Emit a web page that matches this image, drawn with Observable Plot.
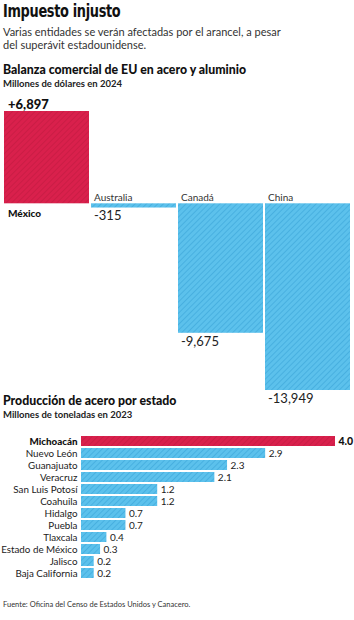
<!DOCTYPE html>
<html><head><meta charset="utf-8">
<script src="https://cdn.jsdelivr.net/npm/d3@7"></script>
<script src="https://cdn.jsdelivr.net/npm/@observablehq/plot@0.6"></script>
<style>
html,body{margin:0;padding:0;background:#fff;}
#page{position:relative;width:354px;height:620px;overflow:hidden;font-family:Lato,"Open Sans",sans-serif;color:#111;}
.abs{position:absolute;left:3px;white-space:nowrap;}
#t{top:1px;font-family:"Liberation Sans Narrow","DejaVu Sans Condensed",sans-serif;font-size:17.5px;font-weight:700;letter-spacing:-0.4px;color:#111;transform:scaleX(0.82);transform-origin:0 0;}
#st{top:25px;font-size:11px;line-height:13px;color:#333;}
#h1{top:62px;font-size:12.3px;font-weight:900;}
#s1{top:78px;font-size:9.5px;font-weight:700;color:#222;}
#h2{top:393px;font-size:12.3px;font-weight:900;}
#s2{top:409px;font-size:9.5px;font-weight:700;color:#222;}
#f{top:600px;font-size:7.5px;color:#333;}
#c1{position:absolute;left:0;top:95px;}
#c2{position:absolute;left:0;top:426px;}
</style></head>
<body>
<svg width="0" height="0" style="position:absolute">
<defs>
<pattern id="rojo" patternUnits="userSpaceOnUse" width="4" height="4" patternTransform="rotate(45)">
<rect width="4" height="4" fill="#d9204c"/><line x1="0" y1="0" x2="0" y2="4" stroke="#c01a40" stroke-width="1.2"/>
</pattern>
<pattern id="azul" patternUnits="userSpaceOnUse" width="4" height="4" patternTransform="rotate(45)">
<rect width="4" height="4" fill="#5cc1ec"/><line x1="0" y1="0" x2="0" y2="4" stroke="#3aa5d8" stroke-width="1.2"/>
</pattern>
</defs></svg>
<div id="page">
<div id="c1"></div>
<div id="c2"></div>
<div class="abs" id="t">Impuesto injusto</div>
<div class="abs" id="st">Varias entidades se verán afectadas por el arancel, a pesar<br>del superávit estadounidense.</div>
<div class="abs" id="h1">Balanza comercial de EU en acero y aluminio</div>
<div class="abs" id="s1">Millones de dólares en 2024</div>
<div class="abs" id="h2">Producción de acero por estado</div>
<div class="abs" id="s2">Millones de toneladas en 2023</div>
<div class="abs" id="f">Fuente: Oficina del Censo de Estados Unidos y Canacero.</div>
</div>
<script>
const paises = ["México", "Australia", "Canadá", "China"];
const balanza = [6897, -315, -9675, -13949];
const etiquetasBalanza = ["+6,897", "-315", "-9,675", "-13,949"];

const estados = ["Michoacán", "Nuevo León", "Guanajuato", "Veracruz", "San Luis Potosí", "Coahuila", "Hidalgo", "Puebla", "Tlaxcala", "Estado de México", "Jalisco", "Baja California"];
const produccion = [4.0, 2.9, 2.3, 2.1, 1.2, 1.2, 0.7, 0.7, 0.4, 0.3, 0.2, 0.2];
const etiquetasProduccion = ["4.0", "2.9", "2.3", "2.1", "1.2", "1.2", "0.7", "0.7", "0.4", "0.3", "0.2", "0.2"];

const d1 = paises.map((p, i) => ({pais: p, valor: balanza[i], etiqueta: etiquetasBalanza[i]}));
const pos = d1.filter(d => d.valor > 0), neg = d1.filter(d => d.valor < 0);
const bw = 86;
const font = "Lato, 'Open Sans', sans-serif";

const chart1 = Plot.plot({
  width: 354, height: 315, marginLeft: 3, marginRight: 2, marginTop: 0, marginBottom: 0,
  style: {background: "transparent", fontFamily: font, color: "#111", overflow: "visible"},
  x: {domain: paises, paddingInner: 0.02, paddingOuter: 0, axis: null},
  y: {domain: [-13949, 6897], range: [295, 16], axis: null},
  marks: [
    Plot.barY(pos, {x: "pais", y: "valor", fill: "url(#rojo)"}),
    Plot.barY(neg, {x: "pais", y: "valor", fill: "url(#azul)"}),
    Plot.text(pos, {x: "pais", y: "valor", text: "etiqueta", textAnchor: "start", lineAnchor: "bottom", dx: -bw/2 + 4, dy: -3, fontSize: 13, fontWeight: 900, fill: "#111"}),
    Plot.text(neg, {x: "pais", y: "valor", text: "etiqueta", textAnchor: "start", lineAnchor: "top", dx: -bw/2 + 3, dy: 3, fontSize: 13, fill: "#222"}),
    Plot.text(pos, {x: "pais", y: 0, text: "pais", textAnchor: "start", lineAnchor: "top", dx: -bw/2 + 4, dy: 6, fontSize: 10, fontWeight: 900, fill: "#111"}),
    Plot.text(neg, {x: "pais", y: 0, text: "pais", textAnchor: "start", lineAnchor: "bottom", dx: -bw/2 + 3, dy: -3, fontSize: 10, fill: "#333"})
  ]
});
document.getElementById("c1").append(chart1);

const d2 = estados.map((e, i) => ({estado: e, valor: produccion[i], etiqueta: etiquetasProduccion[i]}));
const top2 = d2.filter(d => d.estado === "Michoacán"), rest2 = d2.filter(d => d.estado !== "Michoacán");
const chart2 = Plot.plot({
  width: 354, height: 160, marginLeft: 81, marginRight: 19, marginTop: 4, marginBottom: 2.4,
  style: {background: "transparent", fontFamily: font, color: "#111", overflow: "visible"},
  x: {domain: [0, 4], axis: null},
  y: {domain: estados, padding: 0.18, axis: null},
  marks: [
    Plot.barX(top2, {x: "valor", y: "estado", fill: "url(#rojo)"}),
    Plot.barX(rest2, {x: "valor", y: "estado", fill: "url(#azul)"}),
    Plot.text(rest2, {x: 0, y: "estado", text: "estado", textAnchor: "end", dx: -4, fontSize: 9.8, fill: "#222"}),
    Plot.text(rest2, {x: "valor", y: "estado", text: "etiqueta", textAnchor: "start", dx: 3, fontSize: 10, fill: "#222"}),
    Plot.text(top2, {x: 0, y: "estado", text: "estado", textAnchor: "end", dx: -4, fontSize: 9.8, fontWeight: 900, fill: "#111"}),
    Plot.text(top2, {x: "valor", y: "estado", text: "etiqueta", textAnchor: "start", dx: 3, fontSize: 10.5, fontWeight: 900, fill: "#111"})
  ]
});
document.getElementById("c2").append(chart2);
</script>
</body></html>
